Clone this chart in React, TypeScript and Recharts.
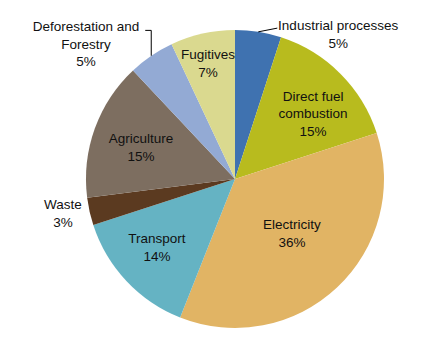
import { PieChart, Pie, Cell } from "recharts";

const categories = [
  "Industrial processes",
  "Direct fuel combustion",
  "Electricity",
  "Transport",
  "Waste",
  "Agriculture",
  "Deforestation and Forestry",
  "Fugitives",
];
const shares = [5, 15, 36, 14, 3, 15, 5, 7];
const labelLines = [
  ["Industrial processes", "5%"],
  ["Direct fuel", "combustion", "15%"],
  ["Electricity", "36%"],
  ["Transport", "14%"],
  ["Waste", "3%"],
  ["Agriculture", "15%"],
  ["Deforestation and", "Forestry", "5%"],
  ["Fugitives", "7%"],
];
const colors = ["#3f72b0", "#b8bb1e", "#e1b464", "#65b3c3", "#5b3a20", "#7d6e60", "#93aad4", "#dad98f"];

const data = categories.map((name, i) => ({ name, value: shares[i] }));

// label placement: angle clockwise from 12 o'clock, distance as share of radius
const labelPos: Record<string, { a: number; r: number; leader?: boolean }> = {
  "Industrial processes": { a: 35.4, r: 1.195, leader: true },
  "Direct fuel combustion": { a: 49.8, r: 0.686 },
  Electricity: { a: 133.5, r: 0.527 },
  Transport: { a: 228.9, r: 0.695 },
  Waste: { a: 258.8, r: 1.177 },
  Agriculture: { a: 288.8, r: 0.666 },
  "Deforestation and Forestry": { a: 312.2, r: 1.35, leader: true },
  Fugitives: { a: 346.9, r: 0.8 },
};

const RAD = Math.PI / 180;
const LINE_H = 17.5;

const renderLabel = (props: any) => {
  const { cx, cy, outerRadius, midAngle, index, name } = props;
  const pos = labelPos[name];
  const lines = labelLines[index];
  const x = cx + outerRadius * pos.r * Math.sin(pos.a * RAD);
  const y = cy - outerRadius * pos.r * Math.cos(pos.a * RAD);
  const top = y - ((lines.length - 1) * LINE_H) / 2;
  let leader = null;
  if (pos.leader) {
    const theta = 90 - midAngle;
    const ex = cx + outerRadius * Math.sin(theta * RAD);
    const ey = cy - outerRadius * Math.cos(theta * RAD);
    const lineY = top + 4;
    const pts =
      ex > cx
        ? `${ex},${ey} ${ex + 19},${lineY - 1}`
        : `${ex},${ey} ${ex},${lineY} ${ex - 6},${lineY}`;
    leader = <polyline points={pts} fill="none" stroke="#000" strokeWidth={1} />;
  }
  return (
    <g>
      {leader}
      <text x={x} y={top} textAnchor="middle" dominantBaseline="central" fill="#111" fontSize={13.5}>
        {lines.map((l: string, i: number) => (
          <tspan key={i} x={x} dy={i === 0 ? 0 : LINE_H}>
            {l}
          </tspan>
        ))}
      </text>
    </g>
  );
};

export default function App() {
  return (
    <div style={{ position: "absolute", left: 0, top: 0, width: 446, height: 351, background: "#fff" }}>
      <PieChart
        width={446}
        height={351}
        margin={{ top: 0, right: 0, bottom: 0, left: 0 }}
        style={{ fontFamily: "'Liberation Sans', Arial, sans-serif" }}
      >
        <Pie
          data={data}
          dataKey="value"
          nameKey="name"
          cx={235}
          cy={179}
          outerRadius={149}
          startAngle={90}
          endAngle={-270}
          stroke="none"
          label={renderLabel}
          labelLine={false}
          isAnimationActive={false}
        >
          {data.map((d, i) => (
            <Cell key={d.name} fill={colors[i]} />
          ))}
        </Pie>
      </PieChart>
    </div>
  );
}
